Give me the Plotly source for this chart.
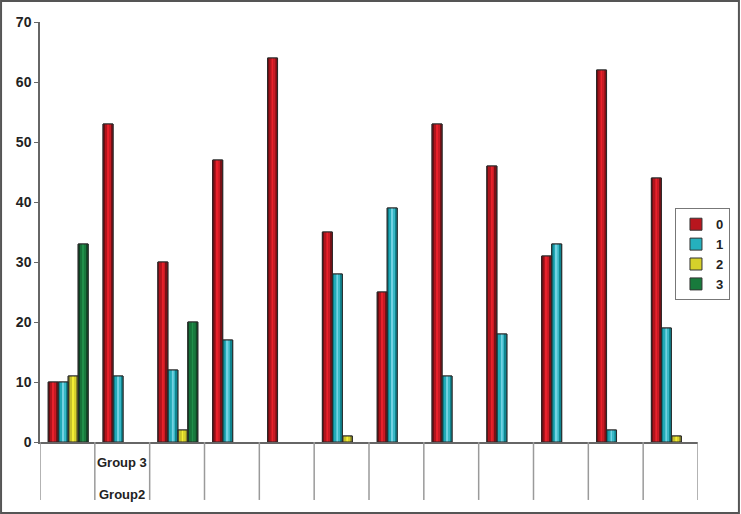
import plotly.graph_objects as go

categories = ["C1", "C2", "C3", "C4", "C5", "C6", "C7", "C8", "C9", "C10", "C11", "C12"]
series_names = ["0", "1", "2", "3"]
s0 = [10, 53, 30, 47, 64, 35, 25, 53, 46, 31, 62, 44]
s1 = [10, 11, 12, 17, None, 28, 39, 11, 18, 33, 2, 19]
s2 = [11, None, 2, None, None, 1, None, None, None, None, None, 1]
s3 = [33, None, 20, None, None, None, None, None, None, None, None, None]
y_ticks = [0, 10, 20, 30, 40, 50, 60, 70]
row1_labels = ["", "Group 3", "", "", "", "", "", "", "", "", "", ""]
row2_labels = ["", "Group2", "", "", "", "", "", "", "", "", "", ""]

values = [s0, s1, s2, s3]
# shades: dark edge, mid, bright, mid, dark
shades = [
    ["#6e0d12", "#b0151d", "#e8212b", "#c81b24", "#7a1015"],
    ["#0c7f8a", "#22aab8", "#72d2e2", "#38b8c6", "#0f8590"],
    ["#86842a", "#c8c22c", "#f4ee34", "#d8d22c", "#8c8a28"],
    ["#0d4222", "#17723a", "#21904a", "#197a3e", "#0f4a25"],
]
mid_colors = ["#b8161e", "#25b0bd", "#d6d02a", "#187a3c"]

bar_w = 0.182
start = -0.35
n_stripes = 5

fig = go.Figure()

for s in range(4):
    fig.add_trace(go.Bar(
        x=categories, y=values[s], name=series_names[s],
        offset=start + s * bar_w, width=bar_w,
        marker=dict(color=mid_colors[s], line=dict(color="#333333", width=1)),
        hoverinfo="skip",
    ))

for s in range(4):
    for k in range(n_stripes):
        fig.add_trace(go.Bar(
            x=categories, y=values[s], showlegend=False,
            offset=start + s * bar_w + k * bar_w / n_stripes, width=bar_w / n_stripes,
            marker=dict(color=shades[s][k], line=dict(width=0)),
            hoverinfo="skip",
        ))

for s in range(4):
    fig.add_trace(go.Bar(
        x=categories, y=values[s], showlegend=False,
        offset=start + s * bar_w, width=bar_w,
        marker=dict(color="rgba(0,0,0,0)", line=dict(color="#2a2a2a", width=1)),
        hoverinfo="skip",
    ))

shapes = []
for i in range(len(categories) + 1):
    shapes.append(dict(type="line", xref="x", yref="paper",
                       x0=i - 0.5, x1=i - 0.5, y0=0, y1=-0.138,
                       line=dict(color="#9a9a9a", width=1.5)))
# outer frame
shapes.append(dict(type="rect", xref="paper", yref="paper",
                   x0=-0.0592, x1=1.0622, y0=-0.169, y1=1.05,
                   line=dict(color="#555555", width=2), fillcolor="rgba(0,0,0,0)"))

annotations = []
for i, (a, b) in enumerate(zip(row1_labels, row2_labels)):
    if a:
        annotations.append(dict(x=categories[i], y=-0.048, xref="x", yref="paper",
                                text=a, showarrow=False, yanchor="middle",
                                font=dict(family="Liberation Sans", size=13, color="#222", weight="bold")))
    if b:
        annotations.append(dict(x=categories[i], y=-0.124, xref="x", yref="paper",
                                text=b, showarrow=False, yanchor="middle",
                                font=dict(family="Liberation Sans", size=13, color="#222", weight="bold")))

fig.update_layout(
    width=741, height=514,
    margin=dict(l=40, r=42, t=22, b=72),
    barmode="overlay",
    plot_bgcolor="white", paper_bgcolor="white",
    showlegend=True,
    legend=dict(x=1.047, xanchor="right", y=0.447, yanchor="middle",
                bordercolor="#777777", borderwidth=1, bgcolor="white",
                font=dict(family="Liberation Sans", size=13, color="#222", weight="bold"),
                itemwidth=30, tracegroupgap=0),
    shapes=shapes,
    annotations=annotations,
)
fig.update_xaxes(showticklabels=False, ticks="", showgrid=False, zeroline=False,
                 showline=True, linecolor="#666666", linewidth=1.5,
                 range=[-0.5, len(categories) - 0.5])
fig.update_yaxes(range=[0, 70], tickvals=y_ticks, showgrid=False, zeroline=False,
                 showline=True, linecolor="#666666", linewidth=1.5,
                 ticks="outside", ticklen=4, tickcolor="#666666",
                 tickfont=dict(family="Liberation Sans", size=14, color="#222", weight="bold"))

fig.write_html("out.html", config={"displayModeBar": False},
               post_script="document.body.style.margin='0';")
